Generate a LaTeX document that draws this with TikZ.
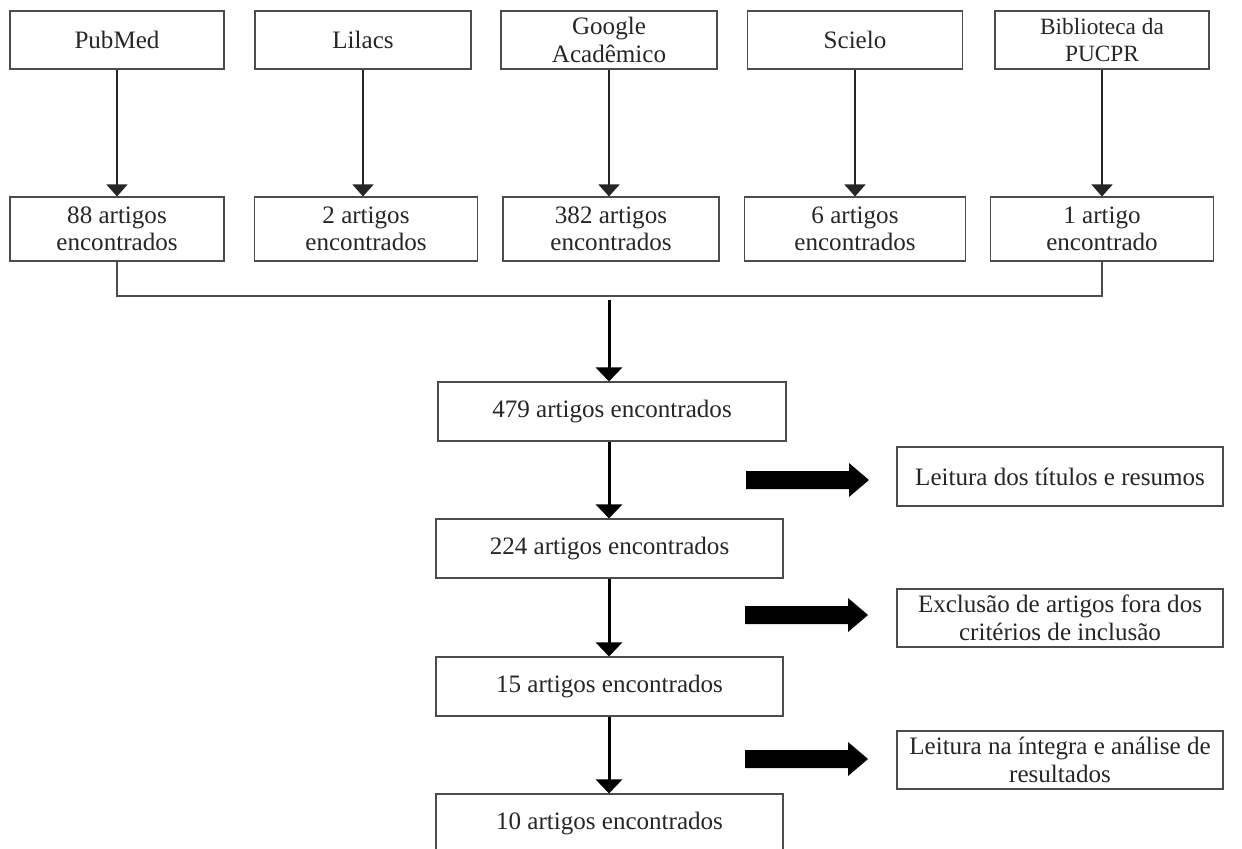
\documentclass[tikz,border=0pt]{standalone}
\usepackage{fontspec}
\setmainfont{Liberation Serif}
\usetikzlibrary{arrows.meta}
\tikzset{
  box/.style={draw=black!70, line width=0.8pt, inner sep=0pt, align=center,
    text=black!85, font=\fontsize{18.8pt}{20.6pt}\selectfont},
  thinarrow/.style={draw=black!85, line width=1.1pt,
    -{Triangle[width=15.75pt,length=9pt]}},
  thickarrow/.style={draw=black, line width=2.25pt,
    -{Triangle[width=19.5pt,length=10.5pt]}},
  bracket/.style={draw=black!70, line width=0.9pt},
  blockarrow/.pic={\fill[black] (0,-9) -- (103,-9) -- (103,-17) -- (123,0) -- (103,17) -- (103,9) -- (0,9) -- cycle;}
}
\begin{document}
\begin{tikzpicture}[x=0.75pt,y=-0.75pt]
\useasboundingbox (0,0) rectangle (1242,849);
% top row
\node[box, minimum width={214*0.75pt}, minimum height={58*0.75pt}] (t1) at (117,40) {PubMed};
\node[box, minimum width={216*0.75pt}, minimum height={58*0.75pt}] (t2) at (363,40) {Lilacs};
\node[box, minimum width={216*0.75pt}, minimum height={58*0.75pt}] (t3) at (609,40) {Google\\Acadêmico};
\node[box, minimum width={215*0.75pt}, minimum height={58*0.75pt}] (t4) at (855,40) {Scielo};
\node[box, minimum width={214*0.75pt}, minimum height={58*0.75pt}, font=\fontsize{17.5pt}{20.3pt}\selectfont] (t5) at (1102,40) {Biblioteca da\\PUCPR};
% second row
\node[box, minimum width={214*0.75pt}, minimum height={64*0.75pt}] (s1) at (117,229) {88 artigos\\encontrados};
\node[box, minimum width={223*0.75pt}, minimum height={64*0.75pt}] (s2) at (366,229) {2 artigos\\encontrados};
\node[box, minimum width={216*0.75pt}, minimum height={64*0.75pt}] (s3) at (611,229) {382 artigos\\encontrados};
\node[box, minimum width={221*0.75pt}, minimum height={64*0.75pt}] (s4) at (855,229) {6 artigos\\encontrados};
\node[box, minimum width={223*0.75pt}, minimum height={64*0.75pt}] (s5) at (1102,229) {1 artigo\\encontrado};
\foreach \i in {1,...,5}{
  \draw[thinarrow] (t\i.south) -- (t\i.south |- s\i.north);
}
% bracket
\coordinate (bl) at (117,296);
\coordinate (br) at (1102,296);
\draw[bracket] (s1.south) -- (bl) -- (br) -- (s5.south);
\coordinate (j) at (609,300);
% main column
\node[box, minimum width={348*0.75pt}, minimum height={59*0.75pt}] (m1) at (612,411.5) {479 artigos encontrados};
\node[box, minimum width={347*0.75pt}, minimum height={59*0.75pt}] (m2) at (609.5,548.5) {224 artigos encontrados};
\node[box, minimum width={347*0.75pt}, minimum height={59*0.75pt}] (m3) at (609.5,686.5) {15 artigos encontrados};
\node[box, minimum width={347*0.75pt}, minimum height={59*0.75pt}] (m4) at (609.5,823.5) {10 artigos encontrados};
\draw[thickarrow] (j) -- (j |- m1.north);
\draw[thickarrow] (j |- m1.south) -- (j |- m2.north);
\draw[thickarrow] (j |- m2.south) -- (j |- m3.north);
\draw[thickarrow] (j |- m3.south) -- (j |- m4.north);
% right boxes
\node[box, minimum width={326*0.75pt}, minimum height={59*0.75pt}] (r1) at (1060,476.5) {Leitura dos títulos e resumos};
\node[box, minimum width={326*0.75pt}, minimum height={58*0.75pt}] (r2) at (1060,618) {Exclusão de artigos fora dos\\critérios de inclusão};
\node[box, minimum width={326*0.75pt}, minimum height={58*0.75pt}] (r3) at (1060,760) {Leitura na íntegra e análise de\\resultados};
% block arrows
\pic at (746,480) {blockarrow};
\pic at (745,615) {blockarrow};
\pic at (745,759) {blockarrow};
\end{tikzpicture}
\end{document}
